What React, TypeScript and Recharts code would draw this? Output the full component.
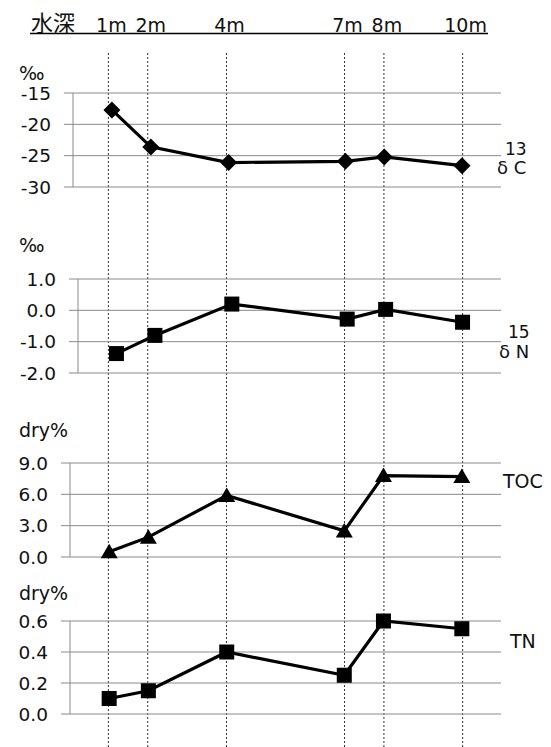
import React from 'react';
import { LineChart, Line, XAxis, YAxis, CartesianGrid, ReferenceLine } from 'recharts';

// water depth of each sampling point (m)
const depths = [1, 2, 4, 7, 8, 10];
const depthLabels = ['1m', '2m', '4m', '7m', '8m', '10m'];

const d13C = [-17.7, -23.6, -26.1, -25.9, -25.2, -26.6];
const d15N = [-1.38, -0.8, 0.2, -0.28, 0.03, -0.38];
const toc = [0.5, 1.9, 5.9, 2.5, 7.8, 7.7];
const tn = [0.1, 0.15, 0.4, 0.25, 0.6, 0.55];

const d13CTicks = [-30, -25, -20, -15];
const d15NTicks = [-2, -1, 0, 1];
const tocTicks = [0, 3, 6, 9];
const tnTicks = [0, 0.2, 0.4, 0.6];

const W = 551;
const H = 747;
const FONT = '"DejaVu Sans", sans-serif';
const GRID = '#8a8a8a';

const toRows = (vals: number[]) => depths.map((d, i) => ({ depth: d, v: vals[i] }));

const diamond = (p: any) => {
  const { cx, cy, index } = p;
  if (cx == null || cy == null) return <g key={index} />;
  return <polygon key={index} points={`${cx},${cy - 8.5} ${cx + 8.5},${cy} ${cx},${cy + 8.5} ${cx - 8.5},${cy}`} fill="#000" />;
};
const square = (p: any) => {
  const { cx, cy, index } = p;
  if (cx == null || cy == null) return <g key={index} />;
  return <rect key={index} x={cx - 7.5} y={cy - 7.5} width={15} height={15} fill="#000" />;
};
const triangle = (p: any) => {
  const { cx, cy, index } = p;
  if (cx == null || cy == null) return <g key={index} />;
  return <polygon key={index} points={`${cx},${cy - 8} ${cx + 8.5},${cy + 6.5} ${cx - 8.5},${cy + 6.5}`} fill="#000" />;
};

type PanelProps = {
  vals: number[];
  ticks: number[];
  plotTop: number;
  plotBottom: number;
  plotLeft: number;
  fmt: (v: number) => string;
  shape: (p: any) => React.ReactElement;
};

const PAD = 16;

function Panel({ vals, ticks, plotTop, plotBottom, plotLeft, fmt, shape }: PanelProps) {
  const h = plotBottom - plotTop + PAD * 2;
  return (
    <div style={{ position: 'absolute', left: 0, top: plotTop - PAD }}>
      <LineChart width={W} height={h} data={toRows(vals)} margin={{ top: PAD, right: 50, bottom: PAD, left: 0 }}>
        <CartesianGrid vertical={false} stroke={GRID} />
        <XAxis dataKey="depth" type="number" domain={[0, 11]} hide />
        <YAxis
          type="number"
          domain={[ticks[0], ticks[ticks.length - 1]]}
          ticks={ticks}
          width={plotLeft}
          tickFormatter={fmt}
          stroke={GRID}
          tickSize={9}
          tickMargin={13}
          tick={{ fontFamily: FONT, fontSize: 18.5, fill: '#111' }}
        />
        <Line
          dataKey="v"
          type="linear"
          stroke="#000"
          strokeWidth={3.2}
          dot={shape}
          activeDot={false}
          isAnimationActive={false}
        />
      </LineChart>
    </div>
  );
}

function DepthGuides() {
  return (
    <div style={{ position: 'absolute', left: 0, top: 0 }}>
      <LineChart width={W} height={H} data={toRows(depths)} margin={{ top: 0, right: 49, bottom: 0, left: 69 }}>
        <XAxis
          dataKey="depth"
          type="number"
          orientation="top"
          domain={[0, 11]}
          ticks={depths}
          height={53}
          axisLine={false}
          tickLine={false}
          tickSize={0}
          tickMargin={21}
          interval={0}
          tickFormatter={(v: number) => depthLabels[depths.indexOf(v)]}
          tick={{ fontFamily: FONT, fontSize: 19, fill: '#111', dx: 3 }}
        />
        <YAxis hide width={0} type="number" dataKey="v" domain={[0, 11]} />
        <Line dataKey="v" stroke="none" dot={false} activeDot={false} isAnimationActive={false} />
        {depths.map((d) => (
          <ReferenceLine key={d} x={d} stroke="#333" strokeDasharray="2 2" strokeWidth={1} ifOverflow="visible" />
        ))}
      </LineChart>
    </div>
  );
}

export default function App() {
  const txt = { fontFamily: FONT, fontSize: 19, fill: '#111' };
  return (
    <div style={{ position: 'absolute', left: 0, top: 0, width: W, height: H, background: '#fff', overflow: 'hidden' }}>
      <DepthGuides />
      <Panel vals={d13C} ticks={d13CTicks} plotTop={93} plotBottom={187} plotLeft={73} fmt={(v) => String(v)} shape={diamond} />
      <Panel vals={d15N} ticks={d15NTicks} plotTop={279} plotBottom={373} plotLeft={78} fmt={(v) => v.toFixed(1)} shape={square} />
      <Panel vals={toc} ticks={tocTicks} plotTop={463} plotBottom={557} plotLeft={70} fmt={(v) => v.toFixed(1)} shape={triangle} />
      <Panel vals={tn} ticks={tnTicks} plotTop={621} plotBottom={714} plotLeft={70} fmt={(v) => v.toFixed(1)} shape={square} />
      <svg width={W} height={H} style={{ position: 'absolute', left: 0, top: 0, pointerEvents: 'none' }}>
        <text x={31} y={31} style={{ fontFamily: '"Noto Sans CJK JP", sans-serif', fontSize: 22 }} fill="#111">水深</text>
        <line x1={30} x2={488} y1={33.5} y2={33.5} stroke="#000" strokeWidth={1.5} />
        <text x={19} y={80} {...txt}>‰</text>
        <text x={19} y={252} {...txt}>‰</text>
        <text x={19} y={437} {...txt}>dry%</text>
        <text x={19} y={600} {...txt}>dry%</text>
        <text x={505} y={155} {...txt} fontSize={17}>13</text>
        <text x={497} y={174} {...txt} fontSize={18}>δ C</text>
        <text x={508} y={338} {...txt} fontSize={17}>15</text>
        <text x={499} y={358} {...txt} fontSize={18}>δ N</text>
        <text x={503} y={488} {...txt}>TOC</text>
        <text x={510} y={648} {...txt}>TN</text>
      </svg>
    </div>
  );
}
